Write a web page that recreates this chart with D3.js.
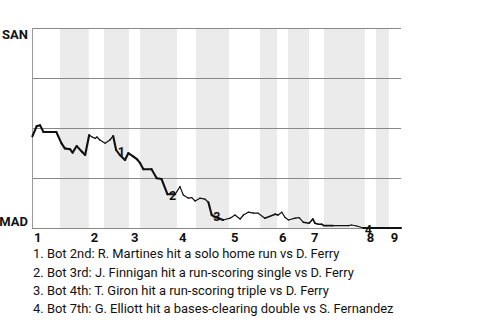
<!DOCTYPE html>
<html>
<head>
<meta charset="utf-8">
<script src="https://cdn.jsdelivr.net/npm/d3@7"></script>
<style>
  body { margin: 0; background: #fff; }
  text { font-family: Roboto, "Noto Sans", sans-serif; }
</style>
</head>
<body>
<div id="chart"></div>
<script>
// team at top (win prob 1) and at bottom (win prob 0)
var teams = ["SAN", "MAD"];
var innings = [1, 2, 3, 4, 5, 6, 7, 8, 9];

// game progress (0-100) where each half inning starts: top 1st, bot 1st, top 2nd ...
var halfInningStarts = [0, 7.6, 15.4, 19.5, 26.3, 29.3, 39.3, 44.4, 53.4, 61.8,
  66.4, 69.4, 75.1, 79.1, 90.2, 93.2, 96.7];
var gameEnd = 100;

// SAN win probability through the game
var progress = [0.1, 1.3, 2.2, 3.1, 6.6, 8.0, 8.9, 10.3, 11.0, 12.1,
  13.5, 14.4, 15.5, 16.3, 17.1, 17.6, 18.4, 19.8, 21.1, 22.0,
  22.8, 23.8, 25.2, 26.1, 27.5, 28.5, 29.3, 30.2, 32.4, 33.8,
  35.1, 36.7, 38.8, 40.1, 41.0, 42.4, 43.3, 44.2, 45.5, 46.9,
  47.8, 48.7, 49.6, 51.8, 53.7, 55.0, 56.4, 57.3, 58.6, 60.0,
  61.3, 63.1, 65.9, 66.7, 67.7, 68.6, 69.5, 71.3, 72.4, 73.5,
  75.1, 76.1, 76.7, 77.6, 78.5, 79.1, 81.6, 85.7, 86.6, 88.0,
  89.8, 100];
var winProb = [0.458, 0.51, 0.513, 0.48, 0.48, 0.423, 0.398, 0.394, 0.377, 0.41,
  0.382, 0.365, 0.465, 0.455, 0.448, 0.455, 0.44, 0.424, 0.44, 0.46,
  0.39, 0.365, 0.34, 0.374, 0.357, 0.343, 0.324, 0.294, 0.294, 0.249,
  0.245, 0.169, 0.169, 0.207, 0.165, 0.149, 0.152, 0.135, 0.149, 0.144,
  0.129, 0.065, 0.055, 0.04, 0.049, 0.065, 0.045, 0.065, 0.079, 0.074,
  0.074, 0.049, 0.069, 0.065, 0.079, 0.052, 0.04, 0.049, 0.052, 0.029,
  0.024, 0.045, 0.024, 0.019, 0.019, 0.012, 0.012, 0.012, 0.015, 0.01,
  0, 0];
// leverage of the stretch that starts at each point (1 low .. 2 high)
var leverage = [2, 2, 2, 2, 2, 2, 2, 2, 2, 2,
  2, 2, 1, 1, 1, 1, 1, 1, 1, 2,
  2, 2, 2, 2, 2, 2, 2, 2, 2, 2,
  2, 2, 1, 1, 1, 1, 1, 1, 1, 1,
  2, 2, 2, 1, 1, 1, 1, 1, 1, 1,
  1, 1.5, 1.5, 1, 1, 1, 1, 1, 1, 1.5,
  1.5, 1.5, 1.5, 1.5, 1.5, 1.5, 1, 1, 1, 1,
  2, 2];

// key plays: index into the points above, and note
var keyPlayIndex = [20, 31, 41, 70];
var keyPlayNotes = [
  "Bot 2nd: R. Martines hit a solo home run vs D. Ferry",
  "Bot 3rd: J. Finnigan hit a run-scoring single vs D. Ferry",
  "Bot 4th: T. Giron hit a run-scoring triple vs D. Ferry",
  "Bot 7th: G. Elliott hit a bases-clearing double vs S. Fernandez"
];
var gridProbs = [0, 0.25, 0.5, 0.75, 1];

var svgWidth = 480;
var svgHeight = 320;
var margin = { top: 28, right: 79, bottom: 92, left: 32 };
var width = svgWidth - margin.left - margin.right;
var height = svgHeight - margin.top - margin.bottom;

var svg = d3.select("#chart")
  .append("svg")
  .attr("width", svgWidth)
  .attr("height", svgHeight);

var chartGroup = svg.append("g")
  .attr("transform", `translate(${margin.left}, ${margin.top})`);

var xScale = d3.scaleLinear().domain([0, gameEnd]).range([0, width]);
var yScale = d3.scaleLinear().domain([0, 1]).range([height, 0]);
var widthScale = d3.scaleLinear().domain([1, 2]).range([1.2, 2.1]);

// shaded bottom halves
var bands = [];
halfInningStarts.forEach(function(s, i) {
  if (i % 2 == 1) {
    var e = i + 1 < halfInningStarts.length ? halfInningStarts[i + 1] : gameEnd;
    bands.push([s, e]);
  }
});
chartGroup.selectAll(".band")
  .data(bands)
  .enter()
  .append("rect")
  .attr("x", d => xScale(d[0]))
  .attr("y", 0)
  .attr("width", d => xScale(d[1]) - xScale(d[0]))
  .attr("height", height)
  .attr("fill", "#ebebeb");

// grid lines
chartGroup.selectAll(".grid")
  .data(gridProbs)
  .enter()
  .append("line")
  .attr("x1", 0)
  .attr("x2", width)
  .attr("y1", d => Math.round(yScale(d)) + 0.5)
  .attr("y2", d => Math.round(yScale(d)) + 0.5)
  .attr("stroke", "#888")
  .attr("stroke-width", 1);

chartGroup.append("line")
  .attr("x1", 0.5).attr("x2", 0.5)
  .attr("y1", 0).attr("y2", height)
  .attr("stroke", "#999");

// inning labels
var inningStarts = halfInningStarts.filter((d, i) => i % 2 == 0);
var bottomAxis = d3.axisBottom(xScale)
  .tickValues(inningStarts)
  .tickFormat((d, i) => innings[i])
  .tickSize(0)
  .tickPadding(4.5);

var xAxisGroup = chartGroup.append("g")
  .attr("transform", `translate(0, ${height})`)
  .call(bottomAxis);
xAxisGroup.select(".domain").remove();
xAxisGroup.selectAll("text")
  .attr("text-anchor", "start")
  .attr("dx", 1.5)
  .attr("fill", "#111")
  .attr("font-size", "13px")
  .attr("font-weight", "bold")
  .attr("font-family", null);

// team labels
chartGroup.append("text")
  .attr("x", -4)
  .attr("y", yScale(1) + 11)
  .attr("text-anchor", "end")
  .attr("font-size", "13px")
  .attr("font-weight", "bold")
  .attr("fill", "#111")
  .text(teams[0]);
chartGroup.append("text")
  .attr("x", -4)
  .attr("y", yScale(0) - 2)
  .attr("text-anchor", "end")
  .attr("font-size", "13px")
  .attr("font-weight", "bold")
  .attr("fill", "#111")
  .text(teams[1]);

// win probability line
var points = progress.map((p, i) => ({ x: p, y: winProb[i], lev: leverage[i] }));
chartGroup.selectAll(".seg")
  .data(d3.pairs(points))
  .enter()
  .append("line")
  .attr("x1", d => xScale(d[0].x))
  .attr("y1", d => yScale(d[0].y))
  .attr("x2", d => xScale(d[1].x))
  .attr("y2", d => yScale(d[1].y))
  .attr("stroke", "#111")
  .attr("stroke-linecap", "round")
  .attr("stroke-width", d => widthScale(d[0].lev));

// key play markers
chartGroup.selectAll(".play")
  .data(keyPlayIndex)
  .enter()
  .append("text")
  .attr("x", d => xScale(progress[d]) + 1.5)
  .attr("y", d => yScale(winProb[d]) + 6)
  .attr("font-size", "12.5px")
  .attr("font-weight", "bold")
  .attr("fill", "#111")
  .text((d, i) => i + 1);

// notes, fitted to the reference's line width
var notes = svg.append("g");
var noteText = notes.selectAll(".note")
  .data(keyPlayNotes)
  .enter()
  .append("text")
  .attr("x", 0)
  .attr("y", (d, i) => 258.5 + i * 18.3)
  .attr("font-size", "13px")
  .attr("fill", "#111")
  .text((d, i) => (i + 1) + ". " + d);

var widest = d3.max(noteText.nodes(), n => n.getComputedTextLength());
var squeeze = 361 / widest;
notes.attr("transform", `translate(33, 0) scale(${squeeze}, 1)`);
</script>
</body>
</html>
